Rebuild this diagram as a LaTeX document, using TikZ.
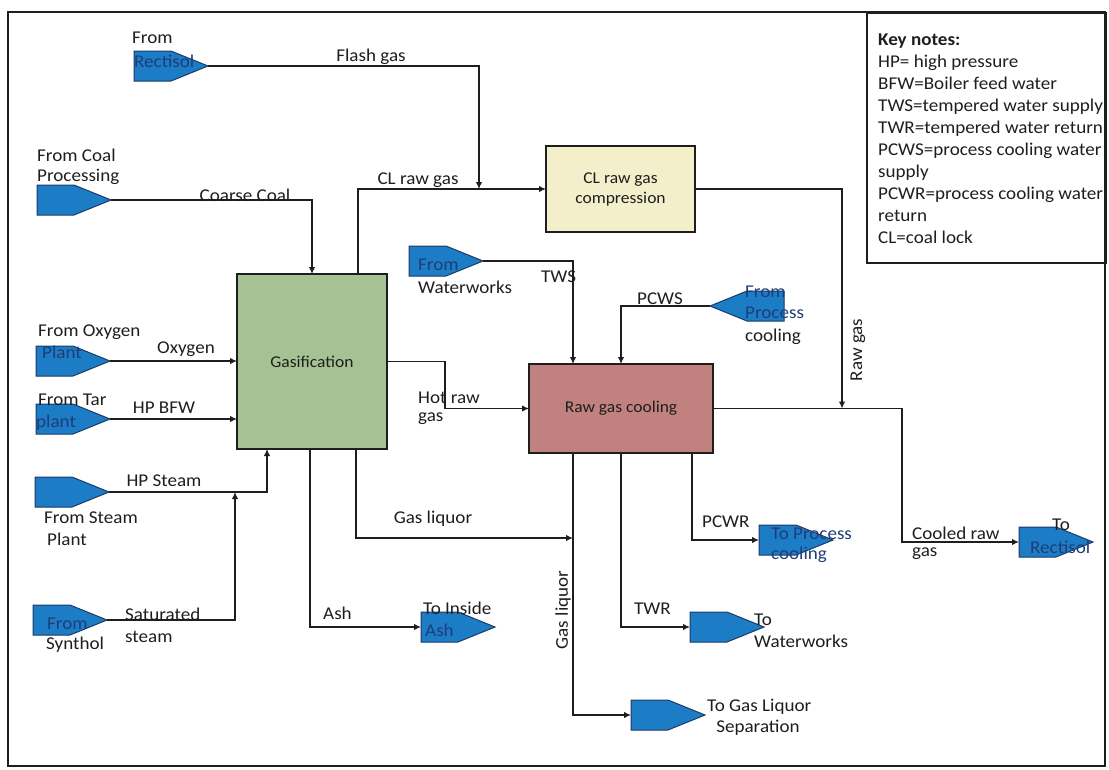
\documentclass[tikz,border=0pt]{standalone}
\usepackage{fontspec}
\setmainfont{Carlito}[FakeStretch=1.06]
\usetikzlibrary{arrows.meta,calc}
\definecolor{pblue}{HTML}{1C7DC6}
\definecolor{pedge}{HTML}{1B3A66}
\definecolor{ptext}{HTML}{1F3D78}
\definecolor{gfill}{HTML}{A6C294}
\definecolor{cfill}{HTML}{F4EFCB}
\definecolor{rfill}{HTML}{C1817F}
\definecolor{ink}{HTML}{1E1E1E}
\begin{document}
\begin{tikzpicture}[x=1pt,y=-1pt,
  font=\fontsize{18}{22}\selectfont,
  every node/.style={text=ink},
  flow/.style={draw=ink, line width=1.2pt, -{Latex[length=7pt,width=6.5pt]}},
  portnode/.style={minimum width=74pt, minimum height=30pt, inner sep=0pt, outer sep=0pt},
  pent/.style={fill=pblue, draw=pedge, line width=1pt},
  boxnode/.style={draw=ink, line width=1.5pt, inner sep=0pt, outer sep=0pt,
    font=\fontsize{16.5}{20}\selectfont, align=center},
  lbl/.style={inner sep=0pt, anchor=west},
  lblc/.style={inner sep=0pt},
  inlbl/.style={inner sep=0pt, anchor=west, text=ptext}]
\useasboundingbox (0,0) rectangle (1109,769);
\draw[line width=2pt, draw=ink] (8,12) rectangle (1105,766);

% key box
\node[draw=ink, line width=1.5pt, anchor=north west, minimum width=239pt, minimum height=250pt, inner sep=0pt] (keybox) at (866,12) {};
\node[anchor=north west, align=left, inner sep=0pt] (keytext) at (878,34)
 {\textbf{Key notes:}\\HP= high pressure\\BFW=Boiler feed water\\TWS=tempered water supply\\TWR=tempered water return\\PCWS=process cooling water\\supply\\PCWR=process cooling water\\return\\CL=coal lock};

% port (pentagon) nodes
\node[portnode] (rect) at (171,66) {};
\node[portnode] (coal) at (74,200) {};
\node[portnode] (ww) at (446,261) {};
\node[portnode] (pc) at (747,306) {};
\node[portnode] (oxy) at (73,361) {};
\node[portnode] (tar) at (73,419) {};
\node[portnode] (steam) at (72,492) {};
\node[portnode] (syn) at (70,620) {};
\node[portnode] (ash) at (458,627) {};
\node[portnode] (gls) at (668,715) {};
\node[portnode] (tww) at (727,627) {};
\node[portnode] (tpc) at (796,540) {};
\node[portnode] (torect) at (1056,542) {};

% process boxes
\node[boxnode, fill=gfill, minimum width=150pt, minimum height=175pt] (gas) at (312,361.5) {Gasification};
\node[boxnode, fill=cfill, minimum width=149pt, minimum height=86pt] (cl) at (620.5,189) {CL raw gas\\compression};
\node[boxnode, fill=rfill, minimum width=184pt, minimum height=89pt] (rgc) at (621,408.5) {Raw gas cooling};

% junctions on lines
\coordinate (jflash) at (479,189);
\coordinate (jraw) at (842,408.5);
\coordinate (jsteam) at (235,492);
\coordinate (jgl) at (573,538);

% pentagons
\foreach \n in {rect,coal,ww,oxy,tar,steam,syn,ash,gls,tww,tpc,torect}
  \path[pent] (\n.north west) -- (\n.north) -- (\n.east) -- (\n.south) -- (\n.south west) -- cycle;
\path[pent] (pc.north east) -- (pc.north) -- (pc.west) -- (pc.south) -- (pc.south east) -- cycle;

% connectors
\draw[flow] (rect.east) -| (jflash);
\draw[flow] (coal.east) -| (gas.north);
\draw[flow] ([xshift=-29pt]gas.north east) |- (cl.west);
\draw[flow] (cl.east) -| (jraw);
\draw[flow] (oxy.east) -- (oxy.east -| gas.west);
\draw[flow] (tar.east) -- (tar.east -| gas.west);
\draw[flow] (steam.east) -| ([xshift=30pt]gas.south west);
\draw[flow] (syn.east) -| (jsteam);
\draw[flow] (gas.east) -- ++(58pt,0pt) |- (rgc.west);
\draw[flow] ([xshift=73pt]gas.south west) |- (ash.west);
\draw[flow] ([xshift=119pt]gas.south west) |- (jgl);
\draw[flow] (ww.east) -| ([xshift=44pt]rgc.north west);
\draw[flow] (pc.west) -| (rgc.north);
\draw[flow] (rgc.east) -- ++(189pt,0pt) |- (torect.west);
\draw[flow] ([xshift=44pt]rgc.south west) |- (gls.west);
\draw[flow] (rgc.south) |- (tww.west);
\draw[flow] ([xshift=163pt]rgc.south west) |- (tpc.west);

% labels
\node[lbl] (l1) at (132,38) {From};
\node[inlbl] (l2) at (134,61) {Rectisol};
\node[lblc] (l3) at (371,57) {Flash gas};
\node[lbl] (l4) at (37,155) {From Coal};
\node[lbl] (l5) at (37,177) {Processing};
\node[lblc] (l6) at (245,195) {Coarse Coal};
\node[lblc] (l7) at (418,180) {CL raw gas};
\node[inlbl] (l8) at (418,265) {From};
\node[lbl] (l9) at (418,287) {Waterworks};
\node[lbl] (l10) at (541,277) {TWS};
\node[lbl] (l11) at (637,299) {PCWS};
\node[inlbl] (l12) at (745,292) {From};
\node[inlbl] (l13) at (745,313) {Process};
\node[lbl] (l14) at (745,337) {cooling};
\node[lblc, rotate=90] (l15) at (858,350) {Raw gas};
\node[lbl] (l16) at (38,332) {From Oxygen};
\node[inlbl] (l17) at (42,352) {Plant};
\node[lblc] (l18) at (186,349) {Oxygen};
\node[lbl] (l19) at (38,400) {From Tar};
\node[inlbl] (l20) at (36,423) {plant};
\node[lblc] (l21) at (164,408) {HP BFW};
\node[lbl] (l22) at (418,398) {Hot raw};
\node[lbl] (l23) at (418,419) {gas};
\node[lblc] (l24) at (164,481) {HP Steam};
\node[lbl] (l25) at (44,518) {From Steam};
\node[lbl] (l26) at (47,539) {Plant};
\node[lbl] (l27) at (125,614) {Saturated};
\node[lbl] (l28) at (125,637) {steam};
\node[inlbl] (l29) at (47,624) {From};
\node[lbl] (l30) at (46,645) {Synthol};
\node[lblc] (l31) at (433,519) {Gas liquor};
\node[lbl] (l32) at (323,613) {Ash};
\node[lbl] (l33) at (423,608) {To Inside};
\node[inlbl] (l34) at (425,630) {Ash};
\node[lblc, rotate=90] (l35) at (563,610) {Gas liquor};
\node[lbl] (l36) at (702,522) {PCWR};
\node[inlbl] (l37) at (771,534) {To Process};
\node[inlbl] (l38) at (771,555) {cooling};
\node[lbl] (l39) at (912,533) {Cooled raw};
\node[lbl] (l40) at (912,554) {gas};
\node[lbl] (l41) at (1052,525) {To};
\node[inlbl] (l42) at (1030,547) {Rectisol};
\node[lbl] (l43) at (634,609) {TWR};
\node[lbl] (l44) at (754,620) {To};
\node[lbl] (l45) at (754,641) {Waterworks};
\node[lbl] (l46) at (707,707) {To Gas Liquor};
\node[lblc] (l47) at (758,728) {Separation};
\end{tikzpicture}
\end{document}
